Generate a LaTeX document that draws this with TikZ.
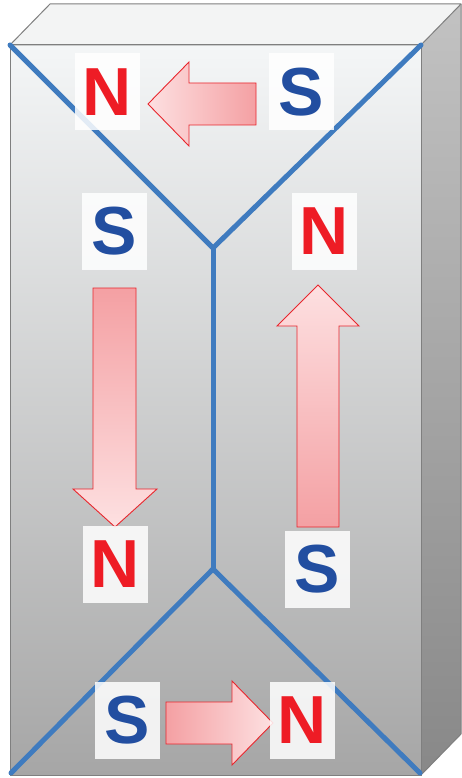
\documentclass[tikz,border=0pt]{standalone}
\usepackage{fontspec}
\setmainfont{Liberation Sans}
\begin{document}
\definecolor{edgegray}{HTML}{7F7F7F}
\definecolor{frontTop}{HTML}{F4F6F7}
\definecolor{frontBot}{HTML}{A6A6A6}
\definecolor{topFace}{HTML}{F3F4F4}
\definecolor{sideTop}{HTML}{C2C2C2}
\definecolor{sideBot}{HTML}{888888}
\definecolor{seam}{HTML}{3F7BBF}
\definecolor{northred}{HTML}{EE1C25}
\definecolor{southblue}{HTML}{224EA0}
\definecolor{arrowdark}{HTML}{F4A0A3}
\definecolor{arrowlight}{HTML}{FDE0E1}
\definecolor{arrowline}{HTML}{E8262D}
\begin{tikzpicture}[x=1pt,y=-1pt,
  pole/.style={fill=white,fill opacity=0.85,text opacity=1,inner sep=0pt,
    minimum width=65pt,minimum height=77pt,
    font=\fontsize{68}{68}\selectfont\bfseries},
  north/.style={pole,text=northred},
  south/.style={pole,text=southblue},
  fieldarrow/.style={draw=arrowline,line width=0.9pt,line join=miter},
  seamline/.style={draw=seam,line width=5pt,line cap=round,line join=round}]
\useasboundingbox (0,0) rectangle (461,778);
% block corners
\coordinate (ftl) at (10,45);
\coordinate (ftr) at (421,45);
\coordinate (fbl) at (10,775);
\coordinate (fbr) at (421,775);
\coordinate (btl) at (50,4);
\coordinate (btr) at (461,4);
\coordinate (bbr) at (461,734);
% faces
\shade[top color=topFace,bottom color=topFace] (ftl) -- (btl) -- (btr) -- (ftr) -- cycle;
\shade[top color=sideTop,bottom color=sideBot] (ftr) -- (btr) -- (bbr) -- (fbr) -- cycle;
\shade[top color=frontTop,bottom color=frontBot] (ftl) rectangle (fbr);
\draw[edgegray,line width=1pt,line join=round] (ftl) -- (btl) -- (btr) -- (ftr) -- cycle;
\draw[edgegray,line width=1pt,line join=round] (btr) -- (bbr) -- (fbr);
\draw[edgegray,line width=1pt] (ftl) rectangle (fbr);
% seams between the magnetised zones
\coordinate (vtop) at (213,248);
\coordinate (vbot) at (213,569);
\coordinate (sbl) at (11,773);
\coordinate (sbr) at (420,773);
\draw[seamline] (ftl) -- (vtop) -- (ftr);
\draw[seamline] (vtop) -- (vbot);
\draw[seamline] (sbl) -- (vbot) -- (sbr);
% magnetisation arrows
\shade[left color=arrowlight,right color=arrowdark,fieldarrow]
  (256,83) -- (189,83) -- (189,62) -- (148,104) -- (189,146) -- (189,125) -- (256,125) -- cycle;
\shade[top color=arrowdark,bottom color=arrowlight,fieldarrow]
  (93,288) -- (136,288) -- (136,489) -- (157,489) -- (115,527) -- (73,489) -- (93,489) -- cycle;
\shade[top color=arrowlight,bottom color=arrowdark,fieldarrow]
  (297,527) -- (339,527) -- (339,326) -- (359,326) -- (318,285) -- (277,326) -- (297,326) -- cycle;
\shade[left color=arrowdark,right color=arrowlight,fieldarrow]
  (166,702) -- (232,702) -- (232,681) -- (273,723) -- (232,765) -- (232,744) -- (166,744) -- cycle;
% poles
\node[north] (n1) at (107.5,92) {N};
\node[south] (s1) at (301,92) {S};
\node[south] (s2) at (114.5,231.5) {S};
\node[north] (n2) at (324.5,231.5) {N};
\node[north] (n3) at (115.5,564.5) {N};
\node[south] (s3) at (317.5,569.5) {S};
\node[south] (s4) at (127.5,720) {S};
\node[north] (n4) at (302.5,720) {N};
\end{tikzpicture}
\end{document}
